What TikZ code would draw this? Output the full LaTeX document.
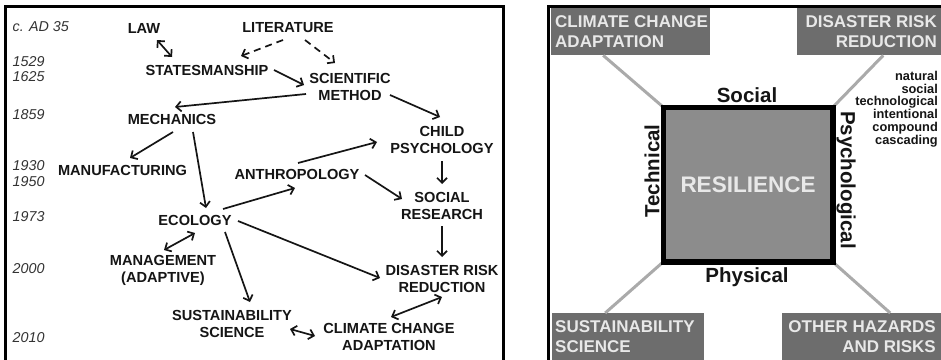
\documentclass[tikz,border=0pt]{standalone}
\usepackage{fontspec}
\setmainfont{Liberation Sans}
\usetikzlibrary{arrows.meta}
\definecolor{boxgray}{HTML}{6D6D6D}
\definecolor{boxtext}{HTML}{E8E8E8}
\definecolor{sqgray}{HTML}{8C8C8C}
\definecolor{linegray}{HTML}{AAAAAA}
\definecolor{ink}{HTML}{151515}
\definecolor{dateink}{HTML}{333333}
\begin{document}
\begin{tikzpicture}[x=1pt,y=-1pt,
  lbl/.style={font=\fontsize{14.6}{17}\selectfont\bfseries, text=ink, align=center, inner sep=0pt},
  datelbl/.style={font=\fontsize{14.3}{16}\selectfont\itshape, text=dateink, anchor=west, inner sep=0pt},
  arr/.style={line width=1.7pt, draw=ink, -{Straight Barb[length=5pt,width=10pt]}},
  biarr/.style={line width=1.7pt, draw=ink, {Straight Barb[length=5pt,width=10pt]}-{Straight Barb[length=5pt,width=10pt]}},
  darr/.style={arr, dash pattern=on 7pt off 5pt},
  hbox/.style={fill=boxgray, draw=none, inner sep=0pt, anchor=north west},
  boxlbl/.style={font=\fontsize{17}{20}\selectfont\bfseries, text=boxtext, inner sep=0pt},
  sidelbl/.style={font=\fontsize{20.5}{24}\selectfont\bfseries, text=ink, inner sep=0pt},
  glink/.style={draw=linegray, line width=3pt},
  frame/.style={draw=black, line width=3pt}
]
\useasboundingbox (0,0) rectangle (941,359);
\fill[white] (0,0) rectangle (941,359);

% ---------- left panel ----------
\draw[frame] (5,362) -- (5,6) -- (503,6) -- (503,362);

\node[datelbl] (d35) at (12.5,26.5) {c. AD 35};
\node[datelbl] (d1529) at (12.5,61.5) {1529};
\node[datelbl] (d1625) at (12.5,77) {1625};
\node[datelbl] (d1859) at (12.5,114.5) {1859};
\node[datelbl] (d1930) at (12.5,165.5) {1930};
\node[datelbl] (d1950) at (12.5,182) {1950};
\node[datelbl] (d1973) at (12.5,217) {1973};
\node[datelbl] (d2000) at (12.5,269) {2000};
\node[datelbl] (d2010) at (12.5,338) {2010};

\node[lbl] (law) at (144,28) {LAW};
\node[lbl] (lit) at (288,28) {LITERATURE};
\node[lbl] (states) at (207,70) {STATESMANSHIP};
\node[lbl] (sci) at (350,86.5) {SCIENTIFIC\\METHOD};
\node[lbl] (mech) at (172,119) {MECHANICS};
\node[lbl] (child) at (442,140) {CHILD\\PSYCHOLOGY};
\node[lbl] (manu) at (122.5,170) {MANUFACTURING};
\node[lbl] (anth) at (297,174) {ANTHROPOLOGY};
\node[lbl] (social) at (442,206) {SOCIAL\\RESEARCH};
\node[lbl] (eco) at (195,220) {ECOLOGY};
\node[lbl] (manag) at (163,270) {MANAGEMENT\\(ADAPTIVE)};
\node[lbl] (drr) at (442,278.5) {DISASTER RISK\\REDUCTION};
\node[lbl] (sust) at (232,323.5) {SUSTAINABILITY\\SCIENCE};
\node[lbl] (cca) at (389,336.5) {CLIMATE CHANGE\\ADAPTATION};

\draw[biarr] ([shift={(13,12)}]law.center) -- ([shift={(-35,-13)}]states.center);
\draw[darr] ([shift={(-5,12)}]lit.center) -- ([shift={(34,-14)}]states.center);
\draw[darr] ([shift={(17,12)}]lit.center) -- ([shift={(-15,-23.5)}]sci.center);
\draw[arr] ([shift={(67,0)}]states.center) -- ([shift={(-46,-1.5)}]sci.center);
\draw[arr] ([shift={(-44,7.5)}]sci.center) -- ([shift={(3,-12)}]mech.center);
\draw[arr] ([shift={(40,8.5)}]sci.center) -- ([shift={(-2,-23)}]child.center);
\draw[arr] ([shift={(1,13)}]mech.center) -- ([shift={(7.5,-12)}]manu.center);
\draw[arr] ([shift={(21,13)}]mech.center) -- ([shift={(11,-12)}]eco.center);
\draw[arr] ([shift={(28,-11)}]eco.center) -- ([shift={(-2,14)}]anth.center);
\draw[arr] ([shift={(1,-11)}]anth.center) -- ([shift={(-65,2)}]child.center);
\draw[arr] ([shift={(68,1)}]anth.center) -- ([shift={(-40,-7)}]social.center);
\draw[arr] ([shift={(0,21)}]child.center) -- ([shift={(0,-22)}]social.center);
\draw[arr] ([shift={(0,20)}]social.center) -- ([shift={(0,-21.5)}]drr.center);
\draw[biarr] ([shift={(0,13)}]eco.center) -- ([shift={(1,-20)}]manag.center);
\draw[arr] ([shift={(30,12)}]eco.center) -- ([shift={(18,-21.5)}]sust.center);
\draw[arr] ([shift={(43,1)}]eco.center) -- ([shift={(-62,-0.5)}]drr.center);
\draw[biarr] ([shift={(0,18.5)}]drr.center) -- ([shift={(2,-19.5)}]cca.center);
\draw[biarr] ([shift={(58,5.5)}]sust.center) -- ([shift={(-74,-0.5)}]cca.center);

% ---------- right panel ----------
\draw[frame] (548,362) -- (548,6) -- (944,6);

\node[hbox, minimum width=159pt, minimum height=47pt] (bcca) at (551,8) {};
\node[hbox, minimum width=146pt, minimum height=47pt] (bdrr) at (797,8) {};
\node[hbox, minimum width=152pt, minimum height=48pt] (bsus) at (552,313) {};
\node[hbox, minimum width=161pt, minimum height=48pt] (both) at (782,313) {};

\node[draw=black, line width=3.5pt, fill=sqgray, minimum width=168pt, minimum height=153pt,
      inner sep=0pt, font=\fontsize{22.5}{26}\selectfont\bfseries, text=boxtext] (res) at (748,184.5) {RESILIENCE};

\draw[glink] ([xshift=-27.5pt]bcca.south) -- (res.north west);
\draw[glink] ([xshift=13pt]bdrr.south) -- (res.north east);
\draw[glink] (res.south west) -- ([xshift=-23pt]bsus.north);
\draw[glink] (res.south east) -- ([xshift=27.5pt]both.north);
\draw[black, line width=3.5pt] (res.north west) rectangle (res.south east);

\node[boxlbl, anchor=west, align=left] (tcca) at (555,32) {CLIMATE CHANGE\\ADAPTATION};
\node[boxlbl, anchor=east, align=right] (tdrr) at (937,32) {DISASTER RISK\\REDUCTION};
\node[boxlbl, anchor=west, align=left] (tsus) at (555,336.5) {SUSTAINABILITY\\SCIENCE};
\node[boxlbl, anchor=east, align=right] (toth) at (936,336.5) {OTHER HAZARDS\\AND RISKS};

\node[sidelbl] (social2) at (747,95) {Social};
\node[sidelbl] (phys) at (747,277) {Physical};
\node[sidelbl, rotate=90] (tech) at (652,171) {Technical};
\node[sidelbl, rotate=-90] (psych) at (846,180) {Psychological};

\node[font=\fontsize{12.8}{12.8}\selectfont\bfseries, text=ink, align=right, anchor=east, inner sep=0pt] (haz) at (938,109)
  {natural\\social\\technological\\intentional\\compound\\cascading};
\end{tikzpicture}
\end{document}
